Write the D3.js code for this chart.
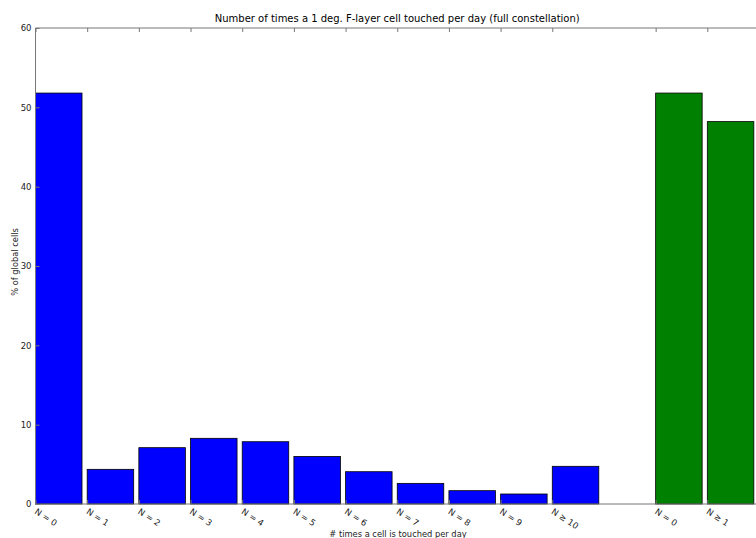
<!DOCTYPE html>
<html>
<head>
<meta charset="utf-8">
<script src="https://cdn.jsdelivr.net/npm/d3@7"></script>
<style>
  html, body { margin: 0; padding: 0; background: #fff; }
  svg { display: block; font-family: "DejaVu Sans", sans-serif; }
</style>
</head>
<body>
<svg id="chart" width="756" height="538"></svg>
<script>
// Distribution of touches per cell (blue) and touched / untouched split (green)
const blueLabels = ["N = 0", "N = 1", "N = 2", "N = 3", "N = 4", "N = 5", "N = 6", "N = 7", "N = 8", "N = 9", "N \u2265 10"];
const blueValues = [51.8, 4.37, 7.1, 8.28, 7.85, 6.0, 4.07, 2.6, 1.68, 1.26, 4.75];
const blueSlots  = [0, 1, 2, 3, 4, 5, 6, 7, 8, 9, 10];

const greenLabels = ["N = 0", "N \u2265 1"];
const greenValues = [51.8, 48.2];
const greenSlots  = [12, 13];

const yTicks = [0, 10, 20, 30, 40, 50, 60];

const title = "Number of times a 1 deg. F-layer cell touched per day (full constellation)";
const xTitle = "# times a cell is touched per day";
const yTitle = "% of global cells";

const svg = d3.select("#chart");
const x = d3.scaleLinear().domain([0, 14]).range([35.5, 759]);
const y = d3.scaleLinear().domain([0, 60]).range([504, 28]);
const barW = 0.9;

const blue = blueValues.map((v, i) => ({ v, slot: blueSlots[i], label: blueLabels[i] }));
const green = greenValues.map((v, i) => ({ v, slot: greenSlots[i], label: greenLabels[i] }));

const plot = svg.append("g");
function drawBars(data, fill) {
  plot.selectAll(null).data(data).enter().append("rect")
    .attr("x", d => x(d.slot))
    .attr("y", d => y(d.v))
    .attr("width", d => x(d.slot + barW) - x(d.slot))
    .attr("height", d => y(0) - y(d.v))
    .attr("fill", fill)
    .attr("stroke", "#000")
    .attr("stroke-width", 0.8);
}
drawBars(blue, "#0000ff");
drawBars(green, "#008000");

// frame
const frame = svg.append("g").attr("stroke", "#777").attr("stroke-width", 1).attr("fill", "none");
frame.append("line").attr("x1", x(0)).attr("x2", x(14)).attr("y1", 28).attr("y2", 28);
frame.append("line").attr("x1", x(0)).attr("x2", x(14)).attr("y1", 504).attr("y2", 504);
frame.append("line").attr("x1", x(0)).attr("x2", x(0)).attr("y1", 28).attr("y2", 504);

// y axis with inward ticks
const yAxis = d3.axisLeft(y).tickValues(yTicks).tickSize(-4).tickPadding(4).tickFormat(d3.format("d"));
const gy = svg.append("g").attr("transform", `translate(${x(0)},0)`).call(yAxis);
gy.select(".domain").remove();
gy.selectAll(".tick line").attr("stroke", "#777");
gy.selectAll(".tick text").attr("font-size", 8.5).attr("fill", "#222").attr("font-family", "DejaVu Sans, sans-serif");

// x ticks at slot edges, top and bottom, pointing inward
const allBars = blue.concat(green);
const tickSlots = allBars.map(d => d.slot);
const xAxisB = d3.axisBottom(x).tickValues(tickSlots).tickSize(-4).tickFormat("");
const gxb = svg.append("g").attr("transform", "translate(0,504)").call(xAxisB);
gxb.select(".domain").remove();
gxb.selectAll(".tick line").attr("stroke", "#777");
const xAxisT = d3.axisTop(x).tickValues(tickSlots).tickSize(-4).tickFormat("");
const gxt = svg.append("g").attr("transform", "translate(0,28)").call(xAxisT);
gxt.select(".domain").remove();
gxt.selectAll(".tick line").attr("stroke", "#777");

// rotated category labels
svg.append("g").selectAll("text").data(allBars).enter().append("text")
  .attr("transform", d => `translate(${x(d.slot) - 1.5},${513}) rotate(33)`)
  .attr("font-size", 8.6)
  .attr("fill", "#222")
  .text(d => d.label);

svg.append("text")
  .attr("x", (x(0) + x(14)) / 2).attr("y", 22)
  .attr("text-anchor", "middle").attr("font-size", 10).attr("fill", "#000")
  .text(title);

svg.append("text")
  .attr("x", 398).attr("y", 536.5)
  .attr("text-anchor", "middle").attr("font-size", 8.3).attr("fill", "#222")
  .text(xTitle);

svg.append("text")
  .attr("transform", "translate(18,262) rotate(-90)")
  .attr("text-anchor", "middle").attr("font-size", 8.3).attr("fill", "#222")
  .text(yTitle);
</script>
</body>
</html>
